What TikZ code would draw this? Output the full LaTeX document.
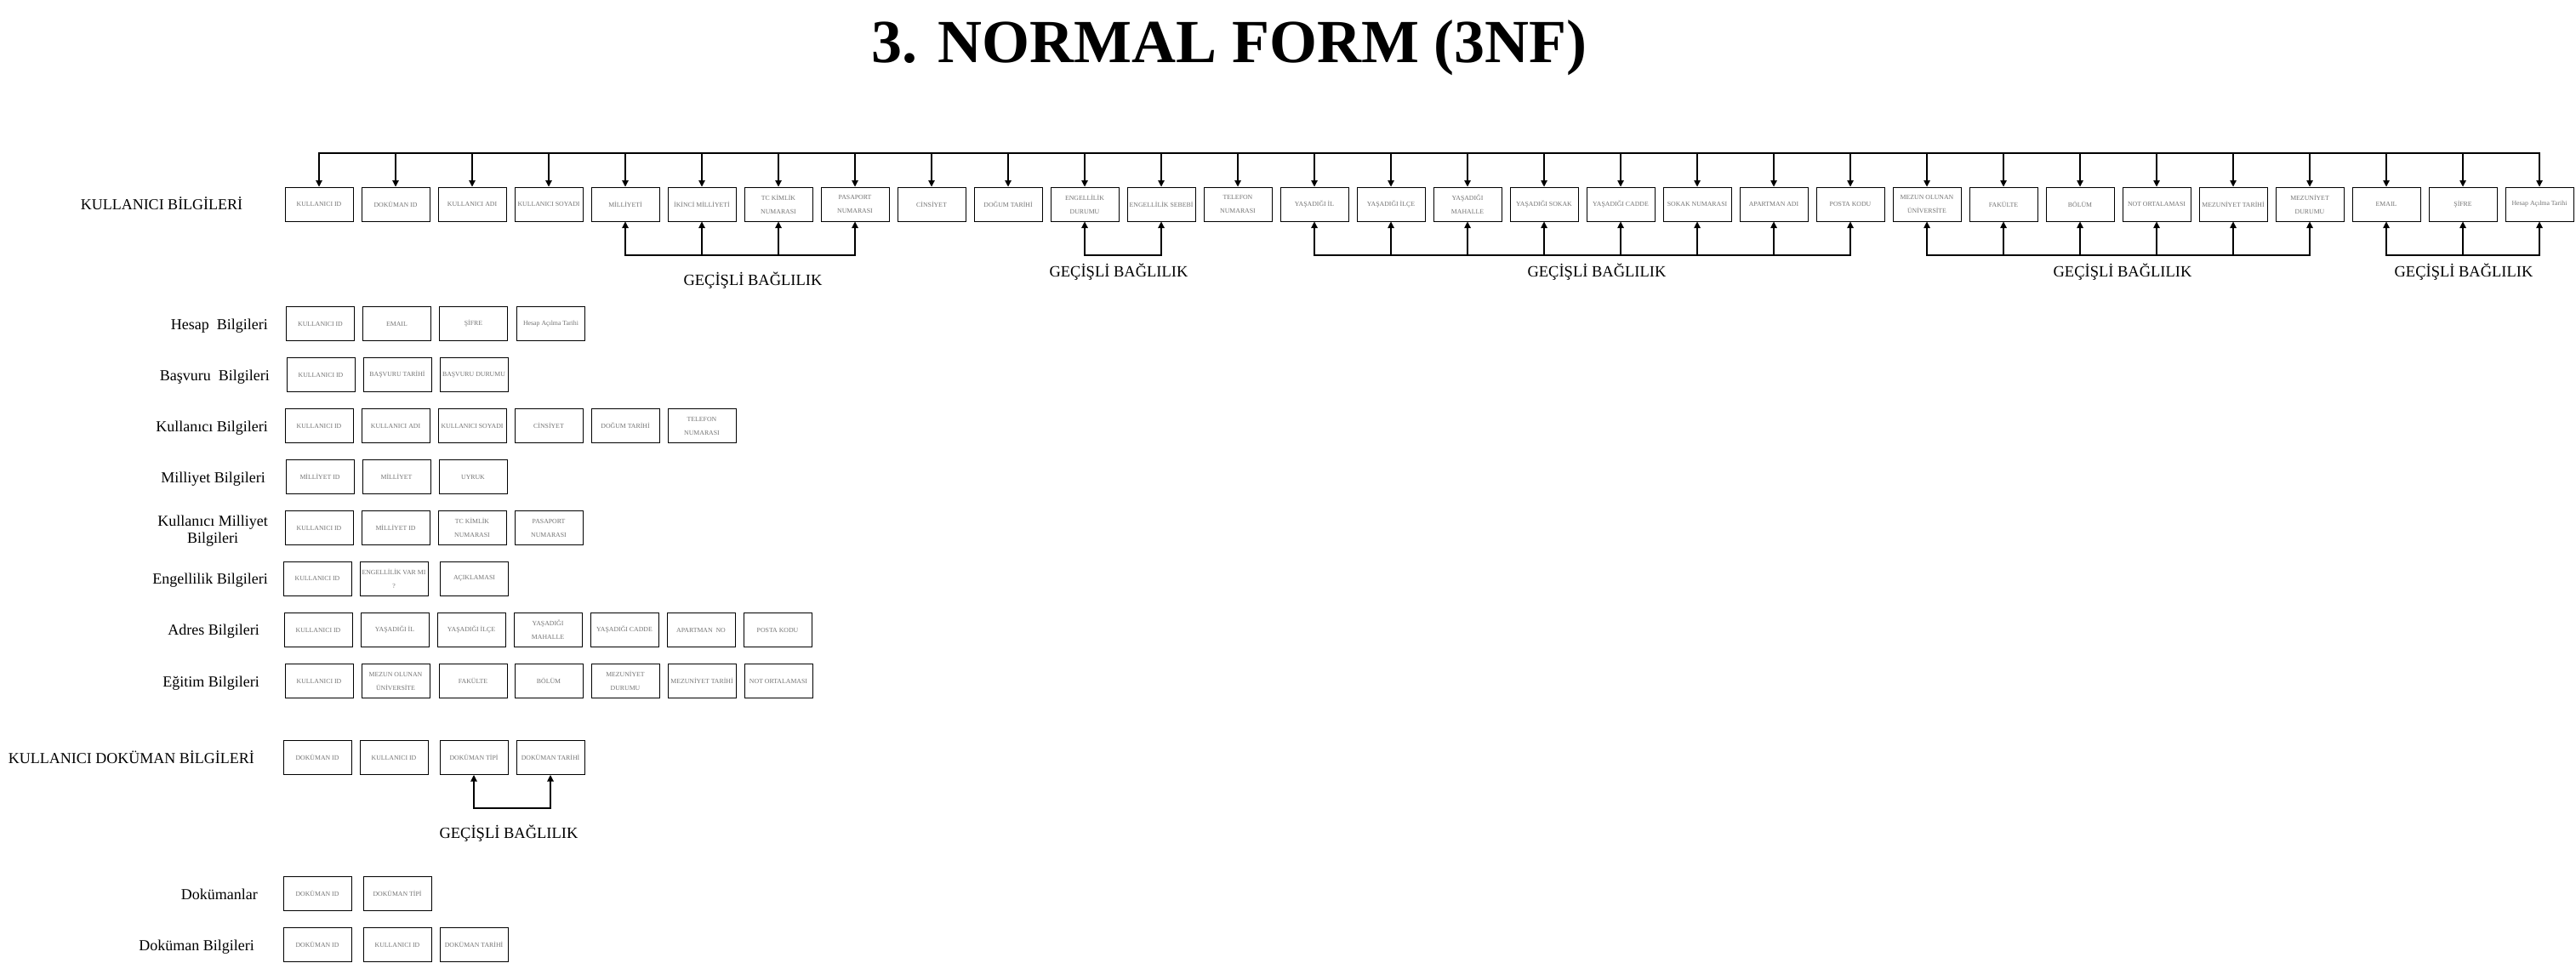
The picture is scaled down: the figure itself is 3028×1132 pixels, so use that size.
\documentclass[tikz,border=0pt]{standalone}
\usepackage{fontspec}
\setmainfont{Liberation Serif}
\usetikzlibrary{arrows.meta}
\tikzset{
  attr/.style={draw=black, line width=1pt, minimum width=80pt, minimum height=40pt,
    inner sep=0pt, align=center, text=black!55, font=\fontsize{7.8}{16}\selectfont},
  conn/.style={line width=1.1pt, draw=black},
  arr/.style={conn, -{Triangle[width=7.5pt,length=7.5pt]}},
  hline/.style={conn, line cap=rect},
  lbl/.style={font=\fontsize{18}{20}\selectfont, text=black, inner sep=0pt, align=center},
  dep/.style={font=\fontsize{18.5}{22}\selectfont, text=black, inner sep=0pt},
}
\begin{document}
\begin{tikzpicture}[x=1pt,y=-1pt]
\useasboundingbox[fill=white] (0,0) rectangle (3028,1132);

% title
\node[font=\fontsize{72}{80}\selectfont\bfseries, anchor=base, inner sep=0pt] (title) at (1445,74) {3. NORMAL FORM (3NF)};

% ---------- top row ----------
\node[lbl, anchor=mid] (kb) at (190,244) {KULLANICI BİLGİLERİ};
\foreach \t [count=\i from 0] in {
  KULLANICI ID, DOKÜMAN ID, KULLANICI ADI, KULLANICI SOYADI, MİLLİYETİ,
  İKİNCİ MİLLİYETİ, {TC KİMLİK\\NUMARASI}, {PASAPORT\\NUMARASI}, CİNSİYET, DOĞUM TARİHİ,
  {ENGELLİLİK\\DURUMU}, ENGELLİLİK SEBEBİ, {TELEFON\\NUMARASI}, YAŞADIĞI İL, YAŞADIĞI İLÇE,
  {YAŞADIĞI\\MAHALLE}, YAŞADIĞI SOKAK, YAŞADIĞI CADDE, SOKAK NUMARASI, APARTMAN ADI,
  POSTA KODU, {MEZUN OLUNAN\\ÜNİVERSİTE}, FAKÜLTE, BÖLÜM, NOT ORTALAMASI,
  MEZUNİYET TARİHİ, {MEZUNİYET\\DURUMU}, EMAIL, ŞİFRE, Hesap Açılma Tarihi}
{
  \node[attr] (t\i) at ({375+90*\i},240) {\t};
}
\foreach \i in {0,...,29} {
  \coordinate (a\i) at ({375+90*\i},180);
  \draw[arr] (a\i) -- (t\i.north);
}
\draw[hline] (a0) -- (a29);

\foreach \i in {4,5,6,7,10,11,13,14,15,16,17,18,19,20,21,22,23,24,25,26,27,28,29} {
  \coordinate (b\i) at ({375+90*\i},300);
  \draw[arr] (b\i) -- (t\i.south);
}
\draw[hline] (b4) -- (b7);
\draw[hline] (b10) -- (b11);
\draw[hline] (b13) -- (b20);
\draw[hline] (b21) -- (b26);
\draw[hline] (b27) -- (b29);

\node[dep, anchor=mid] (g1) at (885,333) {GEÇİŞLİ BAĞLILIK};
\node[dep, anchor=mid] (g2) at (1315,323) {GEÇİŞLİ BAĞLILIK};
\node[dep, anchor=mid] (g3) at (1877,323) {GEÇİŞLİ BAĞLILIK};
\node[dep, anchor=mid] (g4) at (2495,323) {GEÇİŞLİ BAĞLILIK};
\node[dep, anchor=mid] (g5) at (2896,323) {GEÇİŞLİ BAĞLILIK};

% ---------- tables ----------
\node[lbl, anchor=mid east] (l1) at (315,385) {Hesap~ Bilgileri};
\foreach \x/\t [count=\i] in {376.5/KULLANICI ID, 466.5/EMAIL, 556.5/ŞİFRE, 647.5/Hesap Açılma Tarihi}
  { \node[attr] (hb\i) at (\x,380.5) {\t}; }

\node[lbl, anchor=mid east] (l2) at (317,445) {Başvuru~ Bilgileri};
\foreach \x/\t [count=\i] in {377/KULLANICI ID, 467/BAŞVURU TARİHİ, 557/BAŞVURU DURUMU}
  { \node[attr] (bb\i) at (\x,440.5) {\t}; }

\node[lbl, anchor=mid east] (l3) at (315,505) {Kullanıcı Bilgileri};
\foreach \x/\t [count=\i] in {375/KULLANICI ID, 465/KULLANICI ADI, 555/KULLANICI SOYADI, 645/CİNSİYET, 735/DOĞUM TARİHİ, {825/TELEFON\\NUMARASI}}
  { \node[attr] (kk\i) at (\x,500.5) {\t}; }

\node[lbl, anchor=mid east] (l4) at (312,565) {Milliyet Bilgileri};
\foreach \x/\t [count=\i] in {376/MİLLİYET ID, 466/MİLLİYET, 556/UYRUK}
  { \node[attr] (mb\i) at (\x,560.5) {\t}; }

\node[lbl, anchor=east] (l5) at (315,624) {Kullanıcı Milliyet\\Bilgileri};
\foreach \x/\t [count=\i] in {375/KULLANICI ID, 465/MİLLİYET ID, {555/TC KİMLİK\\NUMARASI}, {645/PASAPORT\\NUMARASI}}
  { \node[attr] (km\i) at (\x,620.5) {\t}; }

\node[lbl, anchor=mid east] (l6) at (315,684) {Engellilik Bilgileri};
\foreach \x/\t [count=\i] in {373/KULLANICI ID, {463/ENGELLİLİK VAR MI\\?}, 557.5/AÇIKLAMASI}
  { \node[attr] (eb\i) at (\x,680) {\t}; }

\node[lbl, anchor=mid east] (l7) at (305,744) {Adres Bilgileri};
\foreach \x/\t [count=\i] in {374/KULLANICI ID, 464/YAŞADIĞI İL, 554/YAŞADIĞI İLÇE, {644/YAŞADIĞI\\MAHALLE}, 734/YAŞADIĞI CADDE, 824/APARTMAN~ NO, 914/POSTA KODU}
  { \node[attr] (ab\i) at (\x,740.5) {\t}; }

\node[lbl, anchor=mid east] (l8) at (305,805) {Eğitim Bilgileri};
\foreach \x/\t [count=\i] in {375/KULLANICI ID, {465/MEZUN OLUNAN\\ÜNİVERSİTE}, 556/FAKÜLTE, 645/BÖLÜM, {735/MEZUNİYET\\DURUMU}, 825/MEZUNİYET TARİHİ, 915/NOT ORTALAMASI}
  { \node[attr] (eg\i) at (\x,800.5) {\t}; }

\node[lbl, anchor=mid east] (l9) at (299,895) {KULLANICI DOKÜMAN BİLGİLERİ};
\foreach \x/\t [count=\i] in {373/DOKÜMAN ID, 463/KULLANICI ID, 557/DOKÜMAN TİPİ, 647/DOKÜMAN TARİHİ}
  { \node[attr] (kd\i) at (\x,890.5) {\t}; }
\coordinate (kc3) at (557,950);
\coordinate (kc4) at (647,950);
\draw[arr] (kc3) -- (kd3.south);
\draw[arr] (kc4) -- (kd4.south);
\draw[hline] (kc3) -- (kc4);
\node[dep, anchor=mid] (g6) at (598,983) {GEÇİŞLİ BAĞLILIK};

\node[lbl, anchor=mid east] (l10) at (303,1055) {Dokümanlar};
\foreach \x/\t [count=\i] in {373/DOKÜMAN ID, 467/DOKÜMAN TİPİ}
  { \node[attr] (dk\i) at (\x,1050.5) {\t}; }

\node[lbl, anchor=mid east] (l11) at (299,1115) {Doküman Bilgileri};
\foreach \x/\t [count=\i] in {373/DOKÜMAN ID, 467/KULLANICI ID, 557/DOKÜMAN TARİHİ}
  { \node[attr] (db\i) at (\x,1110.5) {\t}; }

\end{tikzpicture}
\end{document}
